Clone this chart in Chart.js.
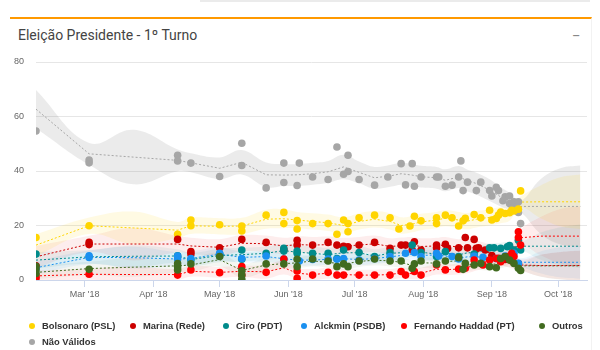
<!DOCTYPE html>
<html>
<head>
<meta charset="utf-8">
<script src="https://cdn.jsdelivr.net/npm/chart.js@4.4.1/dist/chart.umd.min.js"></script>
<style>
  body { margin: 0; background: #fff; width: 600px; height: 350px; overflow: hidden; position: relative; font-family: "Liberation Sans", Arial, sans-serif; }
  .topbar { position: absolute; left: 200px; top: 0; width: 390px; height: 2px; background: #ebebeb; }
  .card { position: absolute; left: 10px; top: 17px; width: 582px; height: 340px; border-top: 2px solid #ff9900; border-right: 1px solid #f2f2f2; box-sizing: border-box; }
  .title { position: absolute; left: 18px; top: 27px; font: 14px Roboto, sans-serif; line-height: 16px; color: #444; }
  .minus { position: absolute; left: 572px; top: 27px; font: 15px Roboto, sans-serif; color: #888; }
  #wrap { position: absolute; left: 0; top: 0; width: 600px; height: 350px; }
  .leg { position: absolute; height: 12px; line-height: 12px; font: bold 9.4px "Liberation Sans", Arial, sans-serif; color: #333; white-space: nowrap; }
  .leg i { display: inline-block; width: 6px; height: 6px; border-radius: 50%; margin-right: 7px; vertical-align: 0px; }
</style>
</head>
<body>
<div class="topbar"></div>
<div class="card"></div>
<div class="title">Eleição Presidente - 1º Turno</div>
<div class="minus">−</div>
<div id="wrap"><canvas id="chart" width="600" height="350"></canvas></div>
<div id="legend"></div>
<script>
// eixo x em dias do ano (1 = 1 jan 2018)
const monthDays = [60, 91, 121, 152, 182, 213, 244, 274];
const monthLabels = ["Mar '18", "Apr '18", "May '18", "Jun '18", "Jul '18", "Aug '18", "Sep '18", "Oct '18"];

const seriesNames = ['Bolsonaro (PSL)', 'Marina (Rede)', 'Ciro (PDT)', 'Alckmin (PSDB)', 'Fernando Haddad (PT)', 'Outros', 'Não Válidos'];
const seriesColors = ['#FFD500', '#CC0000', '#008B8B', '#1A90F0', '#FF0000', '#416B1F', '#A6A6A6'];
const bandColors = ['rgba(255,213,0,0.11)', 'rgba(220,0,0,0.07)', 'rgba(0,139,139,0.08)', 'rgba(26,144,240,0.08)', 'rgba(255,0,0,0.07)', 'rgba(65,107,31,0.06)', 'rgba(150,150,150,0.19)'];

// pesquisas [dia, %]
const bolsonaroPolls = [[38,15.6],[62,19.9],[102,16.8],[108,22],[108,19.9],[121,20.3],[131,19.8],[131,18],[142,23.8],[150,24.8],[150,20.7],[156,21.8],[156,18.7],[163,20.7],[170,20.7],[174,16.8],[177,22],[179,20.7],[179,17.7],[184,22.8],[191,23.8],[198,22.8],[202,18.7],[207,19.8],[209,23.4],[212,21.7],[219,22.8],[219,20.7],[223,23.8],[226,22.8],[229,19.8],[231,21.7],[232,22.6],[236,24],[239,22.8],[243,25.6],[244,22],[246,22.6],[247,23.8],[248,24.9],[250,24.4],[252,24.7],[253,25.6],[254,25.3],[256,26],[257,32.7]];
const marinaPolls = [[38,5.2],[62,13],[62,13.8],[102,14.9],[108,10.4],[108,9.5],[121,11.8],[131,14.9],[142,13.8],[150,11.2],[156,12.8],[156,14.6],[163,12.8],[170,13.8],[174,12.8],[177,12.4],[179,12.2],[184,12.8],[191,13.8],[198,11.6],[203,12.8],[205,12.8],[208,11],[209,14],[212,11],[219,11.8],[219,12.8],[223,13.1],[224,11.6],[229,11.8],[232,15.6],[233,11.8],[236,14.9],[237,11.6],[238,11.8],[241,11],[244,9],[247,8],[250,7.5],[253,7],[256,6]];
const ciroPolls = [[38,9.5],[102,8.9],[108,7.3],[121,9.5],[121,8.8],[131,11],[131,7.6],[142,9.8],[150,11.6],[150,10.6],[156,10.6],[156,9.8],[163,9.8],[170,9.8],[174,7.9],[177,11],[184,10.1],[191,8.6],[198,10.1],[208,12.8],[212,10.1],[219,8.6],[223,10.4],[229,8.6],[236,9.5],[243,11.8],[245,11.8],[248,11.6],[251,12.2],[252,12.6],[254,11],[256,14.6],[257,11]];
const alckminPolls = [[38,4.3],[62,8.3],[62,8.9],[102,7.7],[102,8.8],[108,7.9],[121,9.8],[131,7.9],[142,8.8],[150,7.7],[157,7],[163,7.5],[170,7.7],[174,7.6],[177,7.9],[184,7.3],[191,7.9],[198,8.6],[205,9.8],[209,10.1],[212,8.6],[219,9.8],[220,8.8],[226,8.6],[229,7.7],[236,8.8],[240,8.3],[246,7.9],[250,8.8],[254,9.8],[256,6.1]];
const haddadPolls = [[38,0.6],[38,1.5],[62,2.1],[102,1.8],[108,3.7],[121,2.7],[131,4.9],[131,1.8],[142,2.8],[150,7.7],[156,3.3],[156,0.6],[163,1.8],[170,2.8],[174,1.8],[177,1.8],[184,1.8],[191,1.8],[198,1.8],[203,3.1],[205,1.8],[209,3.1],[212,1.8],[219,5.5],[223,3.7],[229,4],[232,4.3],[236,7.3],[240,5.5],[243,7.3],[246,7.9],[248,6.7],[251,8.6],[253,9.8],[254,8.6],[256,17.7],[256,15.6],[257,12.8]];
const outrosPolls = [[38,2.4],[38,3.7],[38,5],[62,3.9],[102,4.9],[102,3.7],[102,6],[108,5.9],[121,8.6],[131,3.4],[131,1.8],[131,0.3],[142,5.9],[150,5.9],[156,7.6],[156,4.9],[163,7.7],[170,7],[174,4.9],[177,5.9],[179,4.9],[184,7],[191,7.7],[198,7],[203,7],[208,4.3],[209,5.9],[212,7],[219,5.9],[223,7],[229,8.2],[231,3.9],[232,6.1],[236,5.5],[239,6.1],[243,4.9],[246,4.5],[248,7.9],[250,8.6],[252,7.3],[254,6.1],[256,4.3],[257,3.5]];
const naoValidosPolls = [[38,54.7],[62,44],[62,43],[102,45.8],[102,43.7],[108,42.9],[121,38],[131,50.2],[131,42],[142,33.8],[150,42.9],[150,35.8],[156,34.7],[157,42.9],[163,37.8],[170,36.9],[174,48.8],[177,38.8],[179,45.8],[179,39.8],[184,36.9],[191,34.8],[197,37.8],[203,42.7],[205,34.9],[208,42.7],[209,34.4],[212,37.8],[219,37.8],[220,37.8],[223,34.4],[226,34.8],[229,37.8],[230,43.7],[231,32.8],[233,35.9],[237,32.8],[239,35.9],[243,32.8],[244,30.8],[246,34],[247,32.8],[249,29.1],[250,30.5],[252,28.1],[252,30.8],[253,27.5],[254,28.7],[255,26.9],[256,24.8],[256,28.7],[257,20.7]];

// tendência (média) e projeção até a eleição
const trendDays = [38, 62, 82, 102, 108, 121, 131, 142, 150, 156, 163, 170, 177, 184, 191, 198, 203, 208, 212, 219, 223, 229, 233, 237, 243, 248, 252, 257, 266, 275, 284];
const bolsonaroTrend = [12.8, 19.9, 19.1, 18.3, 19.9, 19.7, 19.8, 22.3, 22.5, 22, 21.5, 21, 20, 21.5, 22.3, 21.5, 20, 20.5, 21.3, 22, 22.7, 22, 21.6, 22.3, 23, 23.8, 24.2, 28.6, 28.7, 28.7, 28.7];
const marinaTrend = [8.5, 13.2, 13.2, 13.2, 12.5, 12, 13.5, 13.3, 12.5, 13, 12.8, 13, 12.5, 12.8, 13.3, 12.3, 12.6, 12.8, 12.3, 12.5, 12.8, 12, 12.5, 11.5, 10, 8, 7, 5.5, 5.3, 5.3, 5.3];
const ciroTrend = [7.3, 8.5, 8.7, 8.8, 7.5, 9, 9.3, 9.8, 10.8, 10.2, 9.8, 9.3, 10, 10, 8.8, 9.8, 10, 11, 10.2, 9.5, 10, 9.2, 10, 10, 11.5, 11.7, 12, 12.4, 12.4, 12.4, 12.4];
const alckminTrend = [4.5, 8.3, 8.2, 7.7, 7.9, 9.5, 8.3, 8.6, 7.8, 7.3, 7.3, 7.6, 7.8, 7.5, 7.9, 8.5, 9, 9.5, 9, 9.2, 8.8, 8, 8.5, 8.5, 8.2, 8.3, 8.5, 6.5, 6.5, 6.5, 6.5];
const haddadTrend = [1.5, 2.1, 2, 2, 3.2, 2.8, 3.2, 3, 4.5, 2.5, 2, 2.5, 2, 1.8, 1.8, 2, 2.6, 2.3, 2.5, 4, 3.8, 4, 4.5, 6, 7, 7.5, 9, 15.5, 16.1, 16.1, 16.1];
const outrosTrend = [2.8, 4.2, 4.7, 5.2, 5.5, 7.5, 3.5, 5.5, 6, 6.3, 7, 6.5, 5.8, 6.8, 7.3, 7, 6.5, 5.3, 6.3, 6.2, 6.8, 7, 5.5, 5.8, 5.5, 6.3, 6.8, 5.2, 5.2, 5.2, 5.2];
const naoValidosTrend = [62.7, 46.3, 45.1, 43.9, 43, 41, 43.2, 38.6, 38.5, 38.6, 39, 39.7, 41.5, 39.5, 37.5, 38.2, 39, 38.5, 37.9, 37.5, 36.6, 37.8, 36.5, 35.4, 33, 30.5, 29, 27, 27, 27, 27];

// meia largura da faixa de incerteza
const bolsonaroSpread = [4, 3, 6, 3, 3, 3, 3, 3.5, 3.5, 3, 3, 3, 3, 3, 3, 3, 3, 3, 3, 3, 3, 3, 3, 3, 3, 3, 2.5, 2, 6, 9, 10];
const marinaSpread = [4, 3, 6, 3, 3, 3, 3, 3, 3, 3, 3, 3, 3, 3, 3, 3, 3, 3, 3, 3, 3, 3, 3, 3, 3, 2.5, 2.5, 2, 4, 5, 5.5];
const ciroSpread = [3, 2.5, 4, 2.5, 2.5, 2.5, 2.5, 2.5, 2.5, 2.5, 2.5, 2.5, 2.5, 2.5, 2.5, 2.5, 2.5, 2.5, 2.5, 2.5, 2.5, 2.5, 2.5, 2.5, 2, 2, 2, 1.5, 5, 7, 8];
const alckminSpread = [2.5, 2.5, 4, 2.5, 2.5, 2.5, 2, 2, 2, 2, 2, 2, 2, 2, 2, 2, 2, 2, 2, 2, 2, 2, 2, 2, 2, 2, 2, 1.5, 4, 5.5, 6];
const haddadSpread = [2, 2, 3, 2, 2, 2, 2, 2.5, 2.5, 2, 2, 2, 2, 2, 2, 2, 2, 2, 2, 2, 2, 2, 2, 2.5, 2.5, 2.5, 3, 3, 7, 10, 11];
const outrosSpread = [2.5, 2.5, 3.5, 2.5, 2.5, 2.5, 2.5, 2.5, 2, 2, 2, 2, 2, 2, 2, 2, 2, 2, 2, 2, 2, 2, 2, 2, 2, 2, 2, 1.5, 4, 5, 5.5];
const naoValidosSpread = [7, 4, 10, 4, 3.5, 4, 4.5, 4.5, 4, 4, 4, 4, 4.5, 4, 4, 4, 4, 4, 4, 4, 4, 4, 4, 4, 4, 3.5, 3, 2, 10, 14, 15];

const pollSets = [bolsonaroPolls, marinaPolls, ciroPolls, alckminPolls, haddadPolls, outrosPolls, naoValidosPolls];
const trendSets = [bolsonaroTrend, marinaTrend, ciroTrend, alckminTrend, haddadTrend, outrosTrend, naoValidosTrend];
const spreadSets = [bolsonaroSpread, marinaSpread, ciroSpread, alckminSpread, haddadSpread, outrosSpread, naoValidosSpread];

const pointOrder = [6, 5, 4, 3, 2, 1, 7];
const legendX = [29, 130, 223, 301, 401, 539, 29];
const legendY = [320, 320, 320, 320, 320, 320, 336];

const datasets = [];

// faixas (atrás de tudo)
[6, 0, 1, 2, 3, 4, 5].forEach(i => {
    const ord = i === 6 ? 31 : 30;
    datasets.push({
        type: 'line',
        data: trendDays.map((d, k) => ({ x: d, y: trendSets[i][k] + spreadSets[i][k] })),
        fill: '+1', backgroundColor: bandColors[i], borderWidth: 0, pointRadius: 0, tension: 0.4, order: ord
    });
    datasets.push({
        type: 'line',
        data: trendDays.map((d, k) => ({ x: d, y: trendSets[i][k] - spreadSets[i][k] })),
        fill: false, borderWidth: 0, pointRadius: 0, tension: 0.4, order: ord
    });
});

// linhas de tendência
trendSets.forEach((t, i) => {
    datasets.push({
        type: 'line',
        data: trendDays.map((d, k) => ({ x: d, y: t[k] })),
        borderColor: seriesColors[i], borderWidth: 1, borderDash: [2, 2],
        pointRadius: 0, tension: 0, fill: false, order: 20
    });
});

// pesquisas
pollSets.forEach((p, i) => {
    datasets.push({
        type: 'scatter',
        data: p.map(v => ({ x: v[0], y: v[1] })),
        backgroundColor: seriesColors[i], borderWidth: 0, pointRadius: 3.8, order: pointOrder[i]
    });
});

new Chart(document.getElementById('chart'), {
    type: 'scatter',
    data: { datasets: datasets },
    options: {
        responsive: false,
        animation: false,
        events: [],
        devicePixelRatio: 1,
        layout: { padding: { left: 0, right: 13, top: 62, bottom: 0 } },
        plugins: { legend: { display: false }, tooltip: { enabled: false } },
        scales: {
            x: {
                type: 'linear', min: 38, max: 287,
                afterBuildTicks: s => { s.ticks = monthDays.map(v => ({ value: v })); },
                afterFit: s => { s.height = 70; },
                grid: { drawOnChartArea: false, drawTicks: true, tickLength: 7, color: '#ccd6eb' },
                border: { color: '#ccd6eb' },
                ticks: {
                    padding: 2, color: '#666', font: { family: 'Liberation Sans', size: 9 },
                    maxRotation: 0, autoSkip: false,
                    callback: v => monthLabels[monthDays.indexOf(v)]
                }
            },
            y: {
                min: 0, max: 80,
                afterFit: s => { s.width = 36; },
                grid: { color: '#e6e6e6', drawTicks: false },
                border: { display: false },
                ticks: { stepSize: 20, padding: 12, color: '#666', font: { family: 'Liberation Sans', size: 9 } }
            }
        }
    }
});

// legenda
const legend = document.getElementById('legend');
seriesNames.forEach((name, i) => {
    const el = document.createElement('div');
    el.className = 'leg';
    el.style.left = legendX[i] + 'px';
    el.style.top = legendY[i] + 'px';
    el.innerHTML = `<i style="background:${seriesColors[i]}"></i>${name}`;
    legend.appendChild(el);
});
</script>
</body>
</html>
